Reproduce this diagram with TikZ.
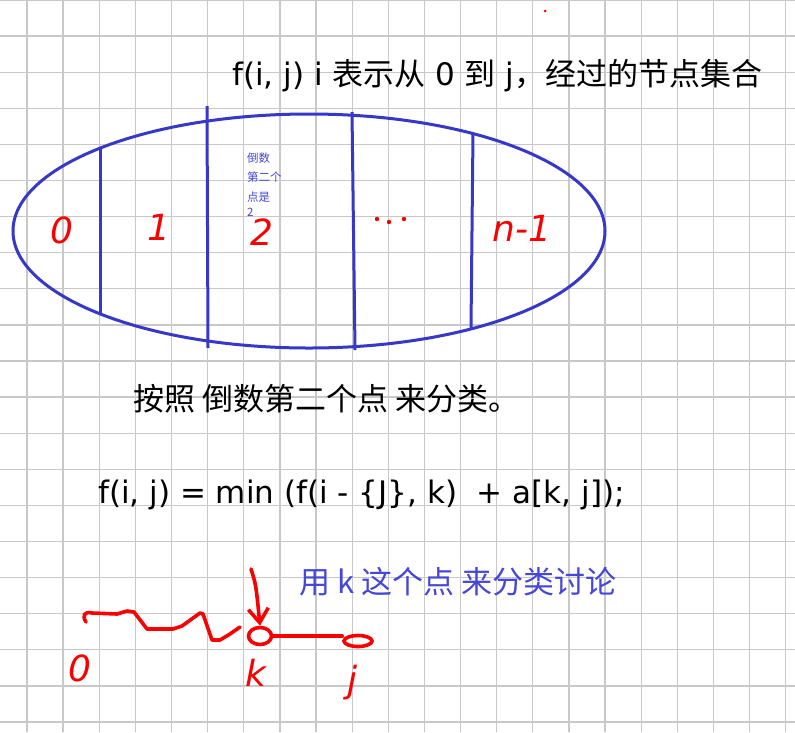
\documentclass[tikz,border=0pt]{standalone}
\usepackage{fontspec}
\setmainfont{DejaVu Sans}
\newfontfamily\cjk{Noto Sans CJK SC}
\usetikzlibrary{arrows.meta,shapes.geometric}
\definecolor{gridgray}{RGB}{200,200,200}
\definecolor{penblue}{RGB}{55,55,200}
\definecolor{txtblue}{RGB}{70,70,215}
\definecolor{penred}{RGB}{250,0,0}
\tikzset{
  gridline/.style={draw=gridgray,line width=1.3pt},
  blueline/.style={draw=penblue,line width=3pt},
  redline/.style={draw=penred,line width=3.6pt,line cap=round,line join=round},
  hand/.style={text=penred,font=\fontsize{36}{36}\selectfont\itshape,inner sep=0pt},
  bigtext/.style={anchor=base west,inner sep=0pt,font=\fontsize{31}{33}\selectfont},
  smalltext/.style={anchor=base west,inner sep=0pt,text=txtblue,font=\cjk\fontsize{11.5}{12}\selectfont},
}
\begin{document}
\begin{tikzpicture}[x=1pt,y=-1pt]
\useasboundingbox (0,0) rectangle (795,732);
\fill[white] (0,0) rectangle (795,732);
% grid
\foreach \i in {0,...,21} \draw[gridline] (27+36.13*\i,0) -- (27+36.13*\i,732);
\foreach \j in {0,...,20} \draw[gridline] (0,36.1*\j) -- (795,36.1*\j);
% title
\node[bigtext] (title) at (232,85) {f(i, j) i {\cjk 表示从} 0 {\cjk 到} j{\cjk ，经过的节点集合}};
% ellipse and dividers
\draw[blueline] (309,231) ellipse [x radius=296, y radius=117];
\draw[blueline] (100,148) -- (100,314);
\draw[blueline] (207,106) -- (208,348);
\draw[blueline] (352,112) -- (355,350);
\draw[blueline] (473,133) -- (471,328);
% small note
\node[smalltext] (n1) at (247,162) {倒数};
\node[smalltext] (n2) at (247,181) {第二个};
\node[smalltext] (n3) at (247,201) {点是};
\node[smalltext] (n4) at (247,216) {2};
% handwritten labels
\node[hand] (h0) at (62,230) {0};
\node[hand] (h1) at (159,227) {1};
\node[hand] (h2) at (262,232) {2};
\fill[penred] (377,219) circle (2.2) (389,222) circle (2.2) (404,219) circle (2.2);
\node[hand] (hn) at (522,228) {n-1};
\fill[penred] (545,11) circle (1.5);
% texts
\node[bigtext] (t2) at (133,410) {\cjk 按照 倒数第二个点 来分类。};
\node[bigtext] (t3) at (98,503) {f(i, j) = min (f(i - \{J\}, k) \ + a[k, j]);};
\node[bigtext,text=txtblue,font=\cjk\fontsize{31}{33}\selectfont] (t4) at (299,593) {用 k 这个点 来分类讨论};
% bottom sketch
\node[draw=penred,line width=3.6pt,ellipse,minimum width=23pt,minimum height=17pt,inner sep=0pt] (kc) at (260,636) {};
\node[draw=penred,line width=3.6pt,ellipse,minimum width=28pt,minimum height=11pt,inner sep=0pt] (jc) at (358,641) {};
\draw[redline] (kc.east) -- (jc.west|-kc.east);
\draw[redline] (86,622) .. controls (82,616) and (84,611) .. (92,613)
  -- (117,614) -- (127,611) -- (134,612) -- (147,629) -- (173,629) -- (182,626)
  -- (200,613) -- (203,614) -- (212,640) -- (220,640) -- (230,634) -- (240,627);
\coordinate (arrstart) at (251,569);
\draw[redline,-{Straight Barb[length=14pt,width=20pt,line width=3.6pt]}] (arrstart) .. controls (256,585) .. (kc.north);
\node[hand] (b0) at (80,668) {0};
\node[hand] (bk) at (256,673) {k};
\node[hand] (bj) at (352,683) {j};
\end{tikzpicture}
\end{document}
